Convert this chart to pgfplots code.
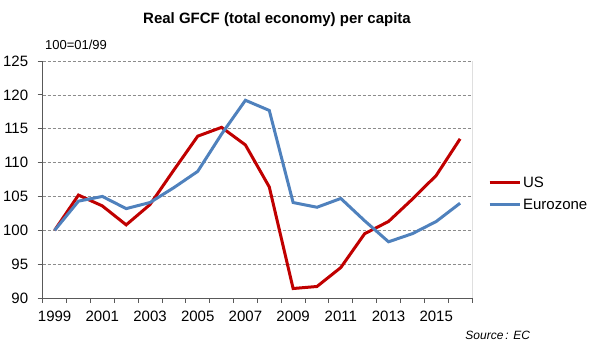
\documentclass[border=0pt]{standalone}
\usepackage{fontspec}
\setmainfont{Liberation Sans}
\usepackage{pgfplots}
\pgfplotsset{compat=1.18}
\definecolor{usred}{RGB}{192,0,0}
\definecolor{ezblue}{RGB}{79,129,189}
\begin{document}
\begin{tikzpicture}
\path[use as bounding box] (-42.7pt,-58pt) rectangle (557.3pt,298pt);
\begin{axis}[
  at={(0pt,0pt)}, anchor=south west,
  scale only axis, width=429.3pt, height=237pt,
  xmin=1998.5, xmax=2016.5, ymin=90, ymax=125,
  xtick={1999,2001,...,2015},
  minor xtick={1998.5,1999.5,...,2016.5},
  ytick={90,95,...,125},
  major x tick style={draw=none},
  tick align=outside,
  major tick length=5pt, minor tick length=5pt,
  every tick/.style={gray!70!black, line width=0.8pt},
  minor x tick style={gray!70!black, line width=0.8pt},
  ymajorgrids,
  grid style={densely dashed, gray!90, line width=0.6pt},
  axis x line*=bottom, axis y line*=left,
  axis line style={gray!70!black, line width=0.8pt},
  /pgf/number format/assume math mode=true,
  x tick label style={/pgf/number format/1000 sep={}, yshift=-4pt},
  y tick label style={xshift=-6pt},
  tick label style={font=\fontsize{15}{17}\selectfont, black},
  legend style={at={(1.03,0.44)}, anchor=west, draw=none, fill=none,
    font=\fontsize{15}{17}\selectfont, row sep=6pt},
  legend cell align=left,
  legend image code/.code={\draw[#1] (0pt,0pt) -- (30pt,0pt);},
]
\draw[black, line width=0.8pt] (rel axis cs:1,0) -- (rel axis cs:1,1);
\addplot[usred, line width=3pt] coordinates {
(1999,100) (2000,105.2) (2001,103.6) (2002,100.8) (2003,103.8) (2004,108.9)
(2005,113.9) (2006,115.2) (2007,112.6) (2008,106.4) (2009,91.4) (2010,91.7)
(2011,94.5) (2012,99.5) (2013,101.3) (2014,104.6) (2015,108.1) (2016,113.5)};
\addlegendentry{US}
\addplot[ezblue, line width=3pt] coordinates {
(1999,100) (2000,104.3) (2001,105.0) (2002,103.2) (2003,104.1) (2004,106.3)
(2005,108.7) (2006,114.2) (2007,119.2) (2008,117.7) (2009,104.1) (2010,103.4)
(2011,104.7) (2012,101.4) (2013,98.3) (2014,99.5) (2015,101.3) (2016,104.0)};
\addlegendentry{Eurozone}
\end{axis}
\node[font=\bfseries\fontsize{15}{17}\selectfont] at (234.3pt,278pt) {Real GFCF (total economy) per capita};
\node[font=\fontsize{13}{15}\selectfont] at (33.3pt,253pt) {100=01/99};
\node[font=\itshape\fontsize{12}{14}\selectfont] at (455pt,-37pt) {Source\,: EC};
\end{tikzpicture}
\end{document}
